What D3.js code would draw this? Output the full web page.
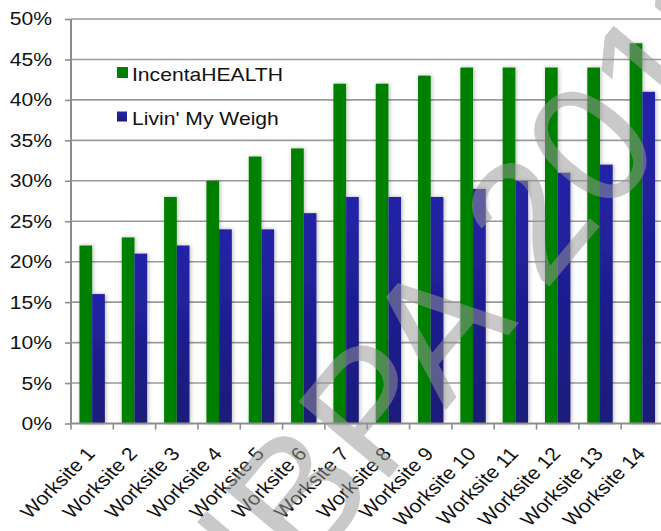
<!DOCTYPE html>
<html>
<head>
<meta charset="utf-8">
<script src="https://cdn.jsdelivr.net/npm/d3@7"></script>
<style>
  html, body { margin: 0; padding: 0; background: #fff; }
  svg { display: block; }
  text { font-family: "Liberation Sans", Arial, sans-serif; }
</style>
</head>
<body>
<div id="chart"></div>
<script>
// Participation by worksite for two programmes
const worksites = ["Worksite 1", "Worksite 2", "Worksite 3", "Worksite 4", "Worksite 5",
  "Worksite 6", "Worksite 7", "Worksite 8", "Worksite 9", "Worksite 10",
  "Worksite 11", "Worksite 12", "Worksite 13", "Worksite 14"];
const seriesNames = ["IncentaHEALTH", "Livin' My Weigh"];
const incentaHealth = [0.22, 0.23, 0.28, 0.30, 0.33, 0.34, 0.42, 0.42, 0.43, 0.44, 0.44, 0.44, 0.44, 0.47];
const livinMyWeigh = [0.16, 0.21, 0.22, 0.24, 0.24, 0.26, 0.28, 0.28, 0.28, 0.29, 0.30, 0.31, 0.32, 0.41];
const yTicks = [0, 0.05, 0.10, 0.15, 0.20, 0.25, 0.30, 0.35, 0.40, 0.45, 0.50];
const watermarkText = "NBPA 2011";

const W = 661, H = 531;
const plot = { left: 71, right: 663.5, top: 19, bottom: 423.5 };
const textSize = 18.7;
const stretch = 1.13;   // horizontal widening applied to all labels

const svg = d3.select("#chart").append("svg")
  .attr("width", W).attr("height", H);

const defs = svg.append("defs");
const blueGrad = defs.append("linearGradient").attr("id", "blueGrad")
  .attr("x1", 0).attr("y1", 0).attr("x2", 0).attr("y2", 1);
blueGrad.append("stop").attr("offset", "0%").attr("stop-color", "#2323a9");
blueGrad.append("stop").attr("offset", "100%").attr("stop-color", "#1a1a78");

const shadow = defs.append("filter").attr("id", "barShadow")
  .attr("x", "-50%").attr("y", "-5%").attr("width", "200%").attr("height", "110%");
shadow.append("feDropShadow").attr("dx", 1).attr("dy", 0)
  .attr("stdDeviation", 2.2).attr("flood-color", "#000").attr("flood-opacity", 0.28);

const x = d3.scaleBand().domain(worksites).range([plot.left, plot.right]);
const xs = d3.scaleBand().domain(seriesNames).range([x.bandwidth() * 0.2, x.bandwidth() * 0.8]);
const y = d3.scaleLinear().domain([0, 0.5]).range([plot.bottom, plot.top]);

// horizontal gridlines
svg.append("g").selectAll("line").data(yTicks.slice(1)).join("line")
  .attr("x1", plot.left).attr("x2", W)
  .attr("y1", d => y(d)).attr("y2", d => y(d))
  .attr("stroke", "#9a9a9a").attr("stroke-width", 1.6);

// bars
const fills = ["#008000", "url(#blueGrad)"];
const seriesData = [incentaHealth, livinMyWeigh];
const groups = svg.append("g").selectAll("g").data(worksites).join("g")
  .attr("transform", d => `translate(${x(d)},0)`);
groups.selectAll("rect")
  .data((d, i) => seriesNames.map((s, k) => ({ s, v: seriesData[k][i], k })))
  .join("rect")
  .attr("x", d => xs(d.s))
  .attr("width", xs.bandwidth())
  .attr("y", d => y(d.v))
  .attr("height", d => y(0) - y(d.v))
  .attr("fill", d => fills[d.k])
  .attr("filter", "url(#barShadow)");

// y axis
const yAxis = d3.axisLeft(y).tickValues(yTicks).tickFormat(d3.format(".0%"))
  .tickSize(6).tickPadding(5);
const gy = svg.append("g").attr("transform", `translate(${plot.left},0)`).call(yAxis);
gy.select(".domain").attr("stroke", "#8c8c8c").attr("stroke-width", 2).attr("d", `M0,${plot.top}V${plot.bottom}`);
gy.selectAll(".tick line").attr("stroke", "#8c8c8c").attr("stroke-width", 1.6);
gy.selectAll(".tick text")
  .attr("font-size", textSize).attr("fill", "#111")
  .attr("font-family", "'Liberation Sans', Arial, sans-serif")
  .attr("x", -19 / stretch)
  .attr("transform", `scale(${stretch},1)`);

// x axis
const xAxis = d3.axisBottom(x).tickSize(0).tickFormat("");
const gx = svg.append("g").attr("transform", `translate(0,${plot.bottom})`).call(xAxis);
gx.select(".domain").attr("stroke", "#8c8c8c").attr("stroke-width", 2)
  .attr("d", `M${plot.left},0H${W}`);
gx.selectAll(".tick").remove();
// tick marks on band boundaries
svg.append("g").selectAll("line").data(worksites).join("line")
  .attr("x1", d => x(d)).attr("x2", d => x(d))
  .attr("y1", plot.bottom).attr("y2", plot.bottom + 6)
  .attr("stroke", "#8c8c8c").attr("stroke-width", 1.6);
// rotated category labels
svg.append("g").selectAll("text").data(worksites).join("text")
  .attr("transform", d => `translate(${x(d) + x.bandwidth() / 2 + 4},${plot.bottom + 31}) scale(${stretch},1) rotate(-48)`)
  .attr("text-anchor", "end")
  .attr("font-size", textSize).attr("fill", "#111")
  .text(d => d);

// legend
const legend = svg.append("g");
const legendItems = [
  { name: seriesNames[0], fill: fills[0], ty: 80.5, sq: 11 },
  { name: seriesNames[1], fill: fills[1], ty: 125, sq: 10 }
];
legend.selectAll("rect").data(legendItems).join("rect")
  .attr("x", 117).attr("y", d => d.ty - 13.5).attr("width", d => d.sq).attr("height", d => d.sq)
  .attr("fill", d => d.fill);
legend.selectAll("text").data(legendItems).join("text")
  .attr("transform", d => `translate(132,${d.ty}) scale(${stretch},1)`)
  .attr("font-size", textSize).attr("fill", "#111")
  .text(d => d.name);

// watermark
svg.append("text")
  .attr("transform", "translate(458,302) rotate(-50)")
  .attr("text-anchor", "middle")
  .attr("dominant-baseline", "central")
  .attr("font-family", "'Liberation Serif', 'DejaVu Serif', serif")
  .attr("font-size", 172)
  .attr("fill", "#989898").attr("fill-opacity", 0.52)
  .text(watermarkText);
</script>
</body>
</html>
